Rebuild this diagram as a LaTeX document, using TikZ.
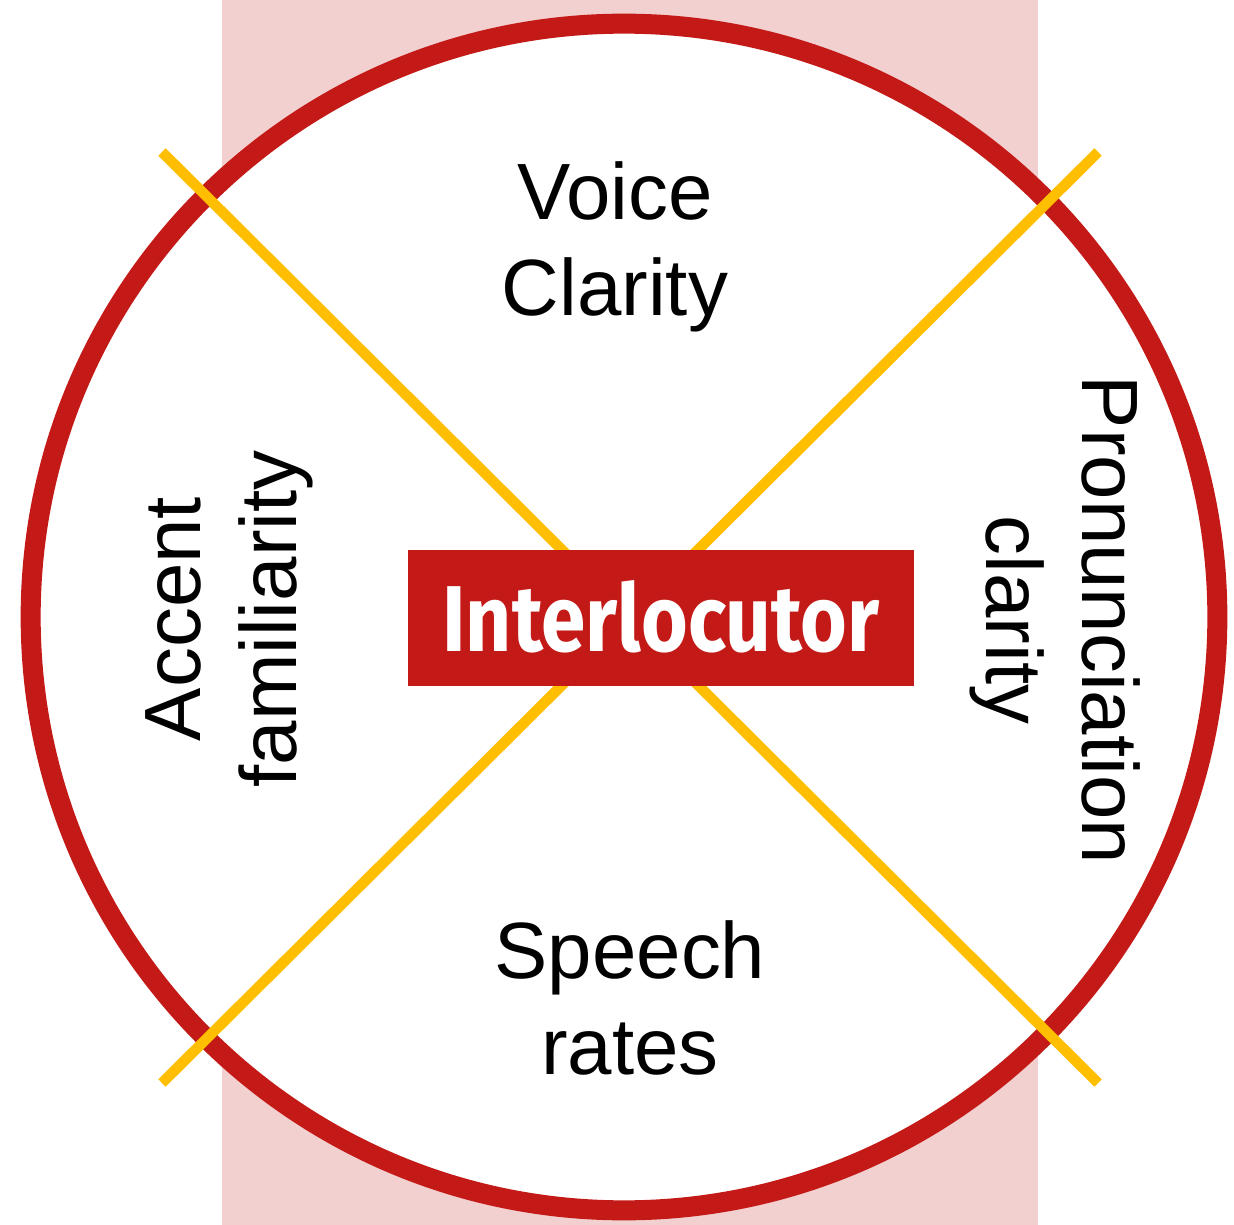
\documentclass[tikz,border=0pt]{standalone}
\usepackage{fontspec}
\usepackage{graphicx}
\setmainfont{Liberation Sans}
\newfontfamily\boxfont{Fira Sans}
\usetikzlibrary{positioning}
\definecolor{ringred}{HTML}{C41A17}
\definecolor{bandpink}{HTML}{F2D0D0}
\definecolor{crossgold}{HTML}{FFBE00}
\tikzstyle{band} = [fill=bandpink, draw=none]
\tikzstyle{ring} = [draw=ringred, line width=0.2cm, fill=white]
\tikzstyle{cross} = [draw=crossgold, line width=0.105cm]
\tikzstyle{factor} = [inner sep=0pt, 
align=center, 
font=\fontsize{22.7}{27.3}\selectfont]
\tikzstyle{centre} = [rectangle, 
fill=ringred, 
minimum width=5.06cm, 
minimum height=1.35cm, 
inner sep=0pt, 
text=white]

\begin{document}
\begin{tikzpicture} [x=0.01cm, y=-0.01cm]
		\useasboundingbox (0,0) rectangle (1234,1225);
		\fill [band] (222,0) rectangle (1038,1225);
		\draw [ring] (624,617) circle [radius=5.93cm];
		\coordinate (nw) at (162,152);
		\coordinate (ne) at (1098,152);
		\coordinate (sw) at (162,1083);
		\coordinate (se) at (1098,1083);
		\draw [cross] (nw) -- (se);
		\draw [cross] (ne) -- (sw);
		\node (inter) [centre] at (661,618) {\raisebox{0.035cm}{\resizebox{4.37cm}{0.71cm}{\boxfont\bfseries Interlocutor}}};
		
		\node (voice) [factor] at (615,247) {Voice\\Clarity};
		\node (speech) [factor] at (630,998) {Speech\\rates};
		\node (accent) [factor, rotate=90] at (229,619) {Accent\\familiarity};
		\node (pron) [factor, rotate=-90] at (1055,620) {Pronunciation\\clarity};
	\end{tikzpicture}
\end{document}
